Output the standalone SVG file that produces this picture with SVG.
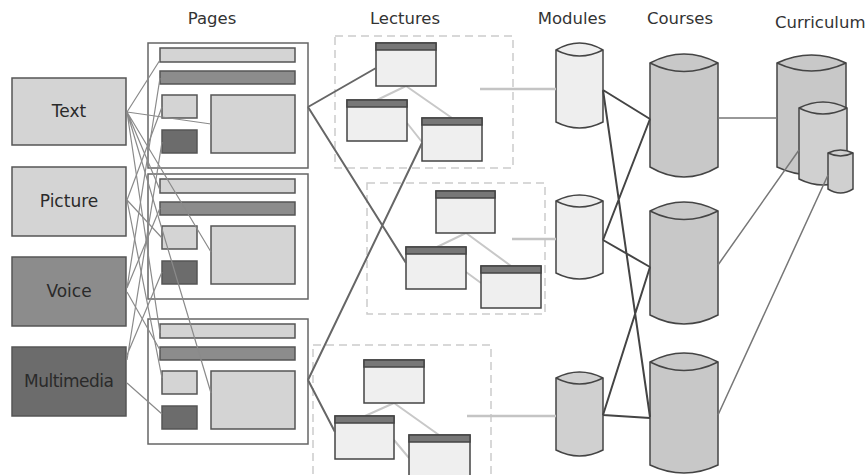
<svg xmlns="http://www.w3.org/2000/svg" width="865" height="475" viewBox="0 0 865 475">
<style>
.hdr{font-family:"DejaVu Sans","Liberation Sans",sans-serif;font-size:16.5px;fill:#333}
.lbl{font-family:"DejaVu Sans","Liberation Sans",sans-serif;font-size:17px;fill:#2a2a2a;text-anchor:middle}
.src{stroke:#555;stroke-width:1.5}
.frame{fill:#fff;stroke:#666;stroke-width:1.5}
.el{stroke:#555;stroke-width:1.5}
.lt{fill:#d4d4d4}
.md{fill:#8c8c8c}
.dk{fill:#6c6c6c}
.win{fill:#efefef;stroke:#444;stroke-width:1.5}
.bar{fill:#777;stroke:#444;stroke-width:1.5}
.dash{fill:none;stroke:#ccc;stroke-width:1.5;stroke-dasharray:8 5}
.cyl{stroke:#444;stroke-width:1.5}
.rim{stroke:#444;stroke-width:1.5;fill:none}
.thin{stroke:#8a8a8a;stroke-width:1.2;fill:none}
.pl{stroke:#666;stroke-width:2;fill:none}
.ll{stroke:#c8c8c8;stroke-width:2;fill:none}
.ml{stroke:#c4c4c4;stroke-width:2.5;fill:none}
.mc{stroke:#444;stroke-width:2;fill:none}
.cc{stroke:#777;stroke-width:1.5;fill:none}
</style>

<g id="headers">
<text class="hdr" x="212" y="24" text-anchor="middle">Pages</text>
<text class="hdr" x="405" y="24" text-anchor="middle">Lectures</text>
<text class="hdr" x="572" y="24" text-anchor="middle">Modules</text>
<text class="hdr" x="680" y="24" text-anchor="middle">Courses</text>
<text class="hdr" x="775" y="28">Curriculum</text>
</g>

<g id="src-text"><rect class="src lt" x="12" y="78" width="114" height="67"/><text class="lbl" x="69" y="117">Text</text></g>
<g id="src-picture"><rect class="src lt" x="12" y="167" width="114" height="69"/><text class="lbl" x="69" y="207">Picture</text></g>
<g id="src-voice"><rect class="src md" x="12" y="257" width="114" height="69"/><text class="lbl" x="69" y="297">Voice</text></g>
<g id="src-multimedia"><rect class="src dk" x="12" y="347" width="114" height="69"/><text class="lbl" x="69" y="387" textLength="90">Multimedia</text></g>

<g id="page1">
<rect class="frame" x="148" y="43" width="160" height="125"/>
<rect class="el lt" x="160" y="48" width="135" height="14"/>
<rect class="el md" x="160" y="71" width="135" height="13"/>
<rect class="el lt" x="162" y="95" width="35" height="23"/>
<rect class="el dk" x="162" y="130" width="35" height="23"/>
<rect class="el lt" x="211" y="95" width="84" height="58"/>
</g>
<g id="page2" transform="translate(0,131)">
<rect class="frame" x="148" y="43" width="160" height="125"/>
<rect class="el lt" x="160" y="48" width="135" height="14"/>
<rect class="el md" x="160" y="71" width="135" height="13"/>
<rect class="el lt" x="162" y="95" width="35" height="23"/>
<rect class="el dk" x="162" y="130" width="35" height="23"/>
<rect class="el lt" x="211" y="95" width="84" height="58"/>
</g>
<g id="page3" transform="translate(0,276)">
<rect class="frame" x="148" y="43" width="160" height="125"/>
<rect class="el lt" x="160" y="48" width="135" height="14"/>
<rect class="el md" x="160" y="71" width="135" height="13"/>
<rect class="el lt" x="162" y="95" width="35" height="23"/>
<rect class="el dk" x="162" y="130" width="35" height="23"/>
<rect class="el lt" x="211" y="95" width="84" height="58"/>
</g>

<g id="lecture1">
<rect class="dash" x="335" y="36" width="178" height="132"/>
<path class="ll" d="M406,86 L377,100 M406,86 L452,118 M407,123 L422,142"/>
<rect class="win" x="376" y="43" width="60" height="43"/><rect class="bar" x="376" y="43" width="60" height="7"/>
<rect class="win" x="347" y="100" width="60" height="41"/><rect class="bar" x="347" y="100" width="60" height="7"/>
<rect class="win" x="422" y="118" width="60" height="43"/><rect class="bar" x="422" y="118" width="60" height="7"/>
</g>
<g id="lecture2">
<rect class="dash" x="367" y="183" width="178" height="131"/>
<path class="ll" d="M466,233 L437,247 M466,233 L511,266 M466,272 L481,283"/>
<rect class="win" x="436" y="191" width="59" height="42"/><rect class="bar" x="436" y="191" width="59" height="7"/>
<rect class="win" x="406" y="247" width="60" height="42"/><rect class="bar" x="406" y="247" width="60" height="7"/>
<rect class="win" x="481" y="266" width="60" height="42"/><rect class="bar" x="481" y="266" width="60" height="7"/>
</g>
<g id="lecture3">
<rect class="dash" x="313" y="345" width="178" height="140"/>
<path class="ll" d="M394,403 L365,416 M394,403 L439,435 M394,440 L409,458"/>
<rect class="win" x="364" y="360" width="60" height="43"/><rect class="bar" x="364" y="360" width="60" height="7"/>
<rect class="win" x="335" y="416" width="59" height="43"/><rect class="bar" x="335" y="416" width="59" height="7"/>
<rect class="win" x="409" y="435" width="61" height="45"/><rect class="bar" x="409" y="435" width="61" height="7"/>
</g>

<g id="module1"><path class="cyl" fill="#eeeeee" d="M556,50 Q579.5,36 603,50 L603,122 Q579.5,134 556,122 Z"/><path class="rim" d="M556,50 Q579.5,62 603,50"/></g>
<g id="module2"><path class="cyl" fill="#eeeeee" d="M556,201 Q579.5,189 603,201 L603,273 Q579.5,285 556,273 Z"/><path class="rim" d="M556,201 Q579.5,213 603,201"/></g>
<g id="module3"><path class="cyl" fill="#d0d0d0" d="M556,378 Q579.5,366 603,378 L603,450 Q579.5,462 556,450 Z"/><path class="rim" d="M556,378 Q579.5,390 603,378"/></g>

<g id="course1"><path class="cyl" fill="#c8c8c8" d="M650,63 Q684,45 718,63 L718,167 Q684,187 650,167 Z"/><path class="rim" d="M650,63 Q684,80 718,63"/></g>
<g id="course2"><path class="cyl" fill="#c8c8c8" d="M650,211 Q684,193 718,211 L718,315 Q684,333 650,315 Z"/><path class="rim" d="M650,211 Q684,228 718,211"/></g>
<g id="course3"><path class="cyl" fill="#c8c8c8" d="M650,362 Q684,344 718,362 L718,465 Q684,481 650,465 Z"/><path class="rim" d="M650,362 Q684,379 718,362"/></g>

<g id="curriculum">
<path class="cyl" fill="#c8c8c8" d="M777,63 Q811.5,47 846,63 L846,167 Q811.5,183 777,167 Z"/><path class="rim" d="M777,63 Q811.5,79 846,63"/>
<path class="cyl" fill="#d0d0d0" d="M799,108 Q823,96 847,108 L847,179 Q823,191 799,179 Z"/><path class="rim" d="M799,108 Q823,120 847,108"/>
<path class="cyl" fill="#d0d0d0" d="M828,153 Q840.5,147 853,153 L853,189 Q840.5,197 828,189 Z"/><path class="rim" d="M828,153 Q840.5,159 853,153"/>
</g>

<g id="connectors">
<path class="thin" d="M127,112 L160,60 M127,112 L211,124 M127,112 L160,190 M127,112 L211,252 M127,112 L160,333 M127,112 L211,393"/>
<path class="thin" d="M127,200 L162,107 M127,200 L162,238 M127,200 L162,378"/>
<path class="thin" d="M127,288 L160,78 M127,288 L160,208 M127,292 L160,350"/>
<path class="thin" d="M127,360 L162,142 M127,355 L162,272 M127,383 L162,414"/>
<path class="pl" d="M308,107 L376,68 M308,107 L406,263 M308,380 L422,143 M308,380 L335,432"/>
<path class="ml" d="M480,89 L556,89 M512,239 L556,239 M467,416 L556,416"/>
<path class="mc" d="M603,90 L650,119 M603,90 L650,417 M603,240 L650,119 M603,240 L650,267 M603,415 L650,267 M603,415 L650,418"/>
<path class="cc" d="M718,118 L777,118 M718,265 L799,150 M718,415 L828,175"/>
</g>
</svg>
